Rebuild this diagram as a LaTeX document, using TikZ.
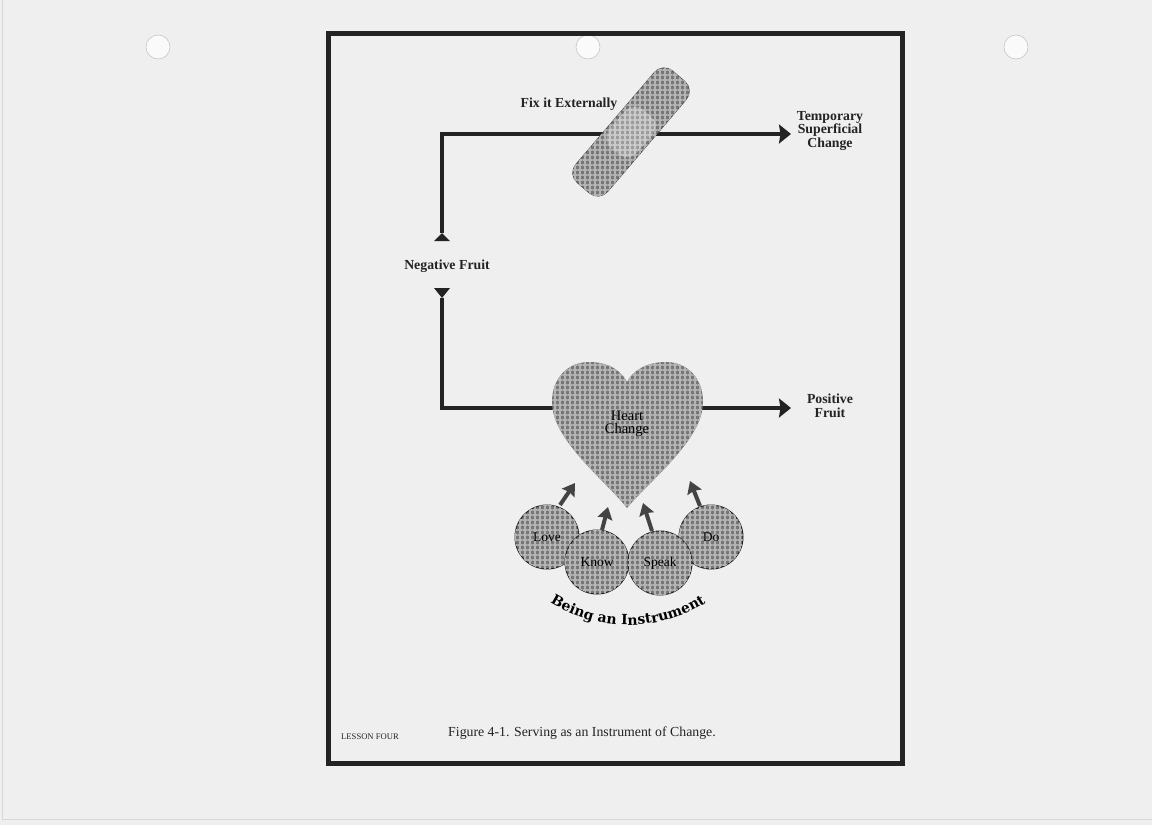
\documentclass[tikz,border=0pt]{standalone}
\usepackage{fontspec}
\setmainfont{Liberation Serif}
\newfontfamily\beingfont{DejaVu Serif}
\usetikzlibrary{arrows.meta,patterns.meta,decorations.text}
\definecolor{paper}{HTML}{EFEFEF}
\definecolor{ink}{HTML}{232323}
\definecolor{meshdark}{HTML}{777777}
\definecolor{meshlight}{HTML}{B4B4B4}
\definecolor{paddark}{HTML}{9C9C9C}
\definecolor{padlight}{HTML}{CACACA}
\definecolor{holeedge}{HTML}{C6C6C6}
\definecolor{scanedge}{HTML}{D8D8D8}
\tikzset{
  flow/.style={draw=ink, line width=4pt, line join=miter},
  bigtip/.style={-{Stealth[length=12pt,width=19pt,inset=1.5pt]}},
  smalltip/.style={draw=ink!85, line width=4pt, -{Stealth[length=12pt,width=15pt,inset=1.5pt]}},
  mesh/.style={fill=meshdark,
    postaction={pattern={Lines[angle=0,distance=5pt,line width=1.4pt]}, pattern color=meshlight},
    postaction={pattern={Lines[angle=90,distance=5pt,line width=1.4pt]}, pattern color=meshlight}},
  padmesh/.style={fill=paddark,
    postaction={pattern={Lines[angle=0,distance=5pt,line width=1.4pt]}, pattern color=padlight},
    postaction={pattern={Lines[angle=90,distance=5pt,line width=1.4pt]}, pattern color=padlight}},
  ball/.style={circle, minimum size=64pt, inner sep=0pt, mesh, draw=ink, line width=1pt},
  balltext/.style={font=\fontsize{13.5}{14}\selectfont, text=black},
  lbl/.style={font=\fontsize{13.8}{13.8}\selectfont\bfseries, text=ink, align=center, inner sep=0pt},
  hole/.style={circle, minimum size=24pt, inner sep=0pt, fill=white!70!paper, draw=holeedge, line width=0.6pt},
  marker/.style={fill=ink},
}
\begin{document}
\begin{tikzpicture}[x=1pt,y=-1pt]
\useasboundingbox (0,0) rectangle (1152,825);
\fill[paper] (0,0) rectangle (1152,825);
\draw[scanedge, line width=0.8pt] (2.5,0) -- (2.5,819) -- (1152,819);

% punch holes
\node[hole] (hole1) at (158,47) {};
\node[hole] (hole2) at (588,47) {};
\node[hole] (hole3) at (1016,47) {};

% frame
\node[draw=ink, line width=5pt, minimum width=574pt, minimum height=730pt, inner sep=0pt] (frame) at (615.5,398.5) {};

% coordinates of the flow lines
\coordinate (upapex) at (442,233);
\coordinate (cornerTL) at (442,134);
\coordinate (tempend) at (791,134);
\coordinate (downapex) at (442,298);
\coordinate (cornerBL) at (442,408);
\coordinate (posend) at (791,408);

% upper path
\draw[flow, bigtip] (upapex) -- (cornerTL) -- (tempend);
\fill[marker] (434,241) -- (upapex) -- (450,241) -- cycle;

% lower path
\draw[flow, bigtip] (downapex) -- (cornerBL) -- (posend);
\fill[marker] (434,288) -- (downapex) -- (450,288) -- cycle;

% band-aid
\node[rectangle, rounded corners=13pt, minimum width=147pt, minimum height=42pt, inner sep=0pt,
      rotate=49.5, mesh, draw=ink!80, line width=0.7pt] (bandage) at (631,132) {};
\node[rectangle, rounded corners=13pt, minimum width=50pt, minimum height=36pt, inner sep=0pt,
      rotate=49.5, padmesh] (pad) at (bandage.center) {};

% heart
\path[mesh] (627,508) .. controls (605,480) and (552,440) .. (552,402)
  .. controls (552,378) and (568,362) .. (589,362)
  .. controls (610,362) and (622,372) .. (627,382)
  .. controls (632,372) and (645,362) .. (666,362)
  .. controls (687,362) and (703,378) .. (703,402)
  .. controls (703,440) and (650,480) .. (627,508) -- cycle;
\node[font=\fontsize{14.5}{13}\selectfont, text=black, align=center, inner sep=0pt] (heart) at (627,424) {Heart\\Change};

% labels
\node[lbl] (fix) at (569,104) {Fix it Externally};
\node[lbl] (temp) at (830,131) {Temporary\\Superficial\\Change};
\node[lbl] (neg) at (447,266) {Negative Fruit};
\node[lbl] (pos) at (830,406) {Positive\\Fruit};

% circles
\node[ball] (love) at (547,537) {};
\node[ball] (know) at (597,562) {};
\node[ball] (do) at (711,537) {};
\node[ball] (speak) at (660,563) {};
\node[balltext] at (love.center) {Love};
\node[balltext] at (know.center) {Know};
\node[balltext] at (speak.center) {Speak};
\node[balltext] at (do.center) {Do};

% small arrows
\coordinate (lovetip) at (575,483);
\coordinate (knowtip) at (608,507);
\coordinate (speaktip) at (643,503);
\coordinate (dotip) at (690,481);
\draw[smalltip] (560,505) -- (lovetip);
\draw[smalltip] (602,530) -- (knowtip);
\draw[smalltip] (652,531) -- (speaktip);
\draw[smalltip] (700,506) -- (dotip);

% curved text
\path[decorate, decoration={text along path, text align=center,
   text={|\beingfont\bfseries\fontsize{14}{14}\selectfont|Being an Instrument}}]
   (628,478) ++(127:147) arc[start angle=127, end angle=53, radius=147];

% caption
\node[font=\fontsize{8.6}{9}\selectfont, text=ink, inner sep=0pt] (lesson) at (370,737) {LESSON FOUR};
\node[font=\fontsize{13.8}{14}\selectfont, text=ink, inner sep=0pt] (caption) at (582,733) {Figure 4-1. Serving as an Instrument of Change.};
\end{tikzpicture}
\end{document}
